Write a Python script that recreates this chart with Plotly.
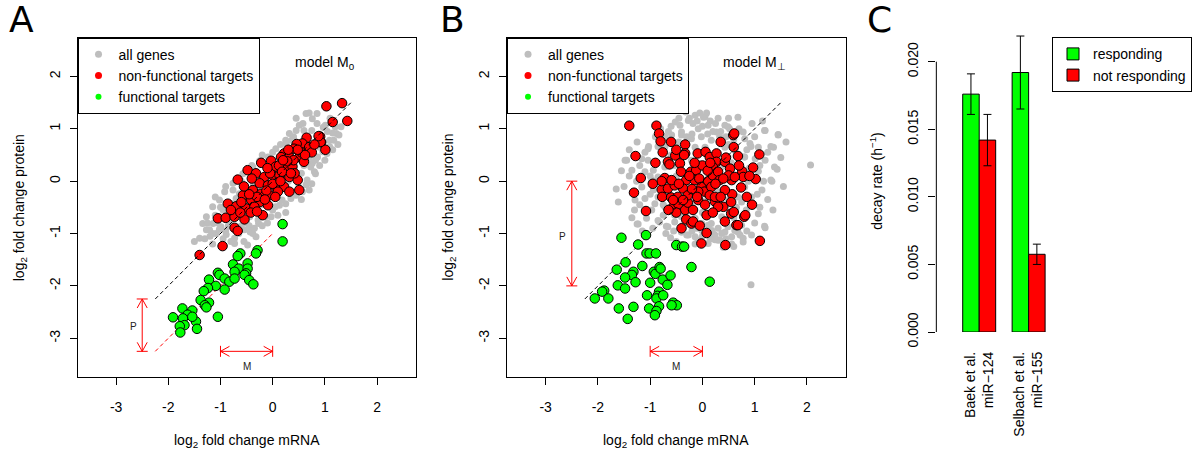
import plotly.graph_objects as go

# ---------------- DATA ----------------
# Panel A (model M0): log2 fold change mRNA (x), protein (y)
A_gray = [(-1.40,-1.09),(-1.21,-0.93),(-1.08,-1.00),(-0.99,-0.87),(-0.89,-1.02),(-0.80,-0.74),(-0.73,-1.09),
          (-0.48,-1.22),(-0.32,-1.06),(-0.54,-0.93),(-0.95,-0.55),(-0.76,-0.17),(-0.64,-0.24),(-0.70,-0.33),
          (-0.60,-0.46),(-0.44,-0.68),(-0.28,-0.74),(-0.03,-0.68),(0.00,-0.55),(0.13,-0.46),(0.25,-0.43),
          (0.35,-0.33),(0.45,-0.27),(0.57,-0.20),(0.64,-0.07),(0.70,-0.17),(0.80,0.18),(0.76,0.34),(0.86,0.46),
          (0.96,0.56),(1.09,0.66),(1.09,0.78),(1.22,0.91),(1.31,1.04),(0.60,0.97),(0.51,1.07),(0.32,0.91),
          (0.25,0.78),(0.06,0.62),(-0.09,0.46),(-0.25,0.39),(-0.38,0.27),(-0.57,0.14),(-0.76,-0.04),(-0.92,-0.20),
          (-1.02,-0.36),(-1.15,-0.49),(-1.27,-0.68),(-1.34,-0.81),(0.64,1.29),(0.76,1.19),(0.85,1.29),(1.01,1.07),
          (1.20,1.04),(1.27,0.88),(1.17,0.78),(1.04,0.53),(0.82,0.40),(0.73,0.27),(0.82,0.14),(0.66,0.02),
          (0.50,-0.11),(0.37,-0.24),(0.18,-0.36),(0.05,-0.49),(-0.14,-0.68),(-0.27,-0.81),(-0.43,-0.97),
          (0.45,0.97),(0.36,0.78),(0.26,0.71),(0.58,1.10),(0.17,0.53),(0.01,0.40),(-0.12,0.24),(-0.25,0.08),
          (-0.37,-0.05),(-0.47,-0.17),(-0.63,-0.30),(-0.76,-0.43),(-0.88,-0.55),(-1.01,-0.68),(-1.14,-0.81),
          (-1.27,-0.93),(-1.15,-1.20),(-0.73,-1.19),(-0.38,-1.00),(-1.15,-1.00),(-1.02,-0.92),(-0.90,-0.95),
          (-0.60,-0.85),(-0.50,-0.80),(1.15,0.92),(0.97,1.03),(0.75,0.97),(0.92,0.80),(1.05,0.95),(0.70,0.60),
          (0.90,0.65),(0.55,0.15),(0.60,0.30),(0.48,0.05),(0.40,0.10),(-0.50,-0.40),(-0.30,-0.20),(-0.10,-0.10),
          (0.10,0.10),(0.30,0.30),(0.50,0.50),(0.20,-0.10),(-0.20,-0.45),(0.40,0.20),(-0.60,-0.60),(-0.85,-0.75),
          (0.00,0.20),(0.30,0.00),(-0.40,-0.55),(0.70,0.45),(0.90,0.90),(-1.05,-0.80),(-1.20,-1.05),
          (-1.50,-1.15),(-1.30,-1.10),(-1.25,-0.80),(-1.10,-0.65),(-1.00,-0.50),(-0.95,-1.10),(-0.85,-0.85),
          (-0.80,-1.15),(-0.65,-1.00),(-0.55,-1.15),(-0.45,-0.85),(-0.35,-0.90),(-0.20,-0.85),(-0.10,-0.80),
          (0.10,-0.65),(0.25,-0.60),(-1.10,-0.30),(-0.90,-0.10),(-0.60,0.00),(-0.40,0.30),(-0.20,0.50),
          (0.00,0.55),(0.15,0.70),(0.40,0.85),(0.55,-0.35),(0.75,-0.05),(0.90,0.30),(1.00,0.40),(1.15,0.60),
          (1.25,0.70),(0.45,1.20),(0.70,1.30),(0.85,1.10),(1.10,1.20)]
A_red = [(1.15,1.13),(1.43,1.15),(1.03,1.43),(1.33,1.49),(0.91,0.85),(0.93,0.74),(1.01,0.60),(0.65,0.83),
         (0.57,0.72),(0.46,0.71),(0.41,0.62),(0.92,0.75),(0.88,0.86),(0.22,0.53),(0.16,0.46),(0.32,0.46),
         (0.51,0.46),(0.60,0.37),(-0.22,0.35),(-0.03,0.39),(0.06,0.28),(0.25,0.28),(0.38,0.28),(-0.48,0.21),
         (-0.32,0.15),(-0.16,0.08),(0.00,0.11),(0.13,0.11),(0.32,0.08),(0.48,0.02),(-0.67,0.03),(-0.25,-0.04),
         (-0.09,-0.08),(0.06,-0.11),(0.22,-0.11),(0.32,-0.20),(0.51,-0.17),(-0.38,-0.17),(-0.22,-0.24),
         (-0.06,-0.27),(0.10,-0.20),(-0.57,-0.27),(-0.41,-0.36),(-0.25,-0.40),(-0.09,-0.46),(-0.86,-0.43),
         (-0.70,-0.48),(-0.51,-0.52),(-0.35,-0.49),(-0.19,-0.65),(-1.05,-0.71),(-0.90,-0.70),(-0.73,-0.68),
         (-0.54,-0.73),(-0.73,-0.89),(-0.67,-0.95),(-0.96,-1.24),(-1.40,-1.41),(0.70,0.65),(0.75,0.55),
         (0.55,0.55),(0.40,0.40),(0.28,0.38),(0.12,0.30),(-0.05,0.15),(0.18,0.18),(0.42,0.15),(-0.12,-0.18),
         (0.00,-0.05),(0.15,0.00),(-0.30,-0.30),(-0.45,-0.25),(-0.60,-0.40),(-0.42,-0.60),(-0.30,-0.58),
         (-0.15,-0.35),(0.05,-0.30),(0.20,0.40),(0.35,0.15),(-0.55,-0.10),(-0.40,0.05),(-0.80,-0.55),
         (-0.62,-0.60),(0.62,0.50),(0.80,0.70),(0.48,0.60),(0.30,0.60),(-0.10,0.25)]
A_green = [(0.19,-0.82),(0.19,-1.15),(-0.29,-1.32),(-0.32,-1.38),(-0.62,-1.38),(-0.67,-1.43),(-0.76,-1.59),
           (-0.65,-1.67),(-0.73,-1.73),(-0.48,-1.57),(-0.48,-1.67),(-0.51,-1.76),(-0.54,-1.79),(-0.45,-1.89),
           (-0.37,-1.97),(-1.05,-1.75),(-1.02,-1.79),(-0.92,-1.86),(-0.83,-1.92),(-0.73,-1.86),(-1.22,-1.88),
           (-1.09,-2.00),(-0.92,-2.07),(-1.24,-2.04),(-1.32,-2.10),(-1.38,-2.27),(-1.22,-2.32),(-1.30,-2.37),
           (-1.27,-2.41),(-1.05,-2.59),(-1.73,-2.43),(-1.54,-2.47),(-1.63,-2.55),(-1.72,-2.62),(-1.91,-2.60),
           (-1.47,-2.68),(-1.69,-2.75),(-1.78,-2.77),(-1.45,-2.82),(-1.77,-2.89),(-1.54,-2.59)]

# Panel B (model M_perp)
B_gray = [(-0.32,1.32),(0.08,1.30),(0.05,1.23),(-0.27,1.16),(-0.43,1.07),(-0.18,1.10),(-0.08,1.00),(0.11,1.07),
          (0.27,0.94),(0.43,1.07),(0.52,1.00),(0.33,0.85),(0.17,0.78),(-0.02,0.85),(-0.21,0.81),(-0.40,0.88),
          (-0.59,0.88),(-0.62,0.75),(-0.72,0.65),(-1.04,0.62),(-1.16,0.43),(-1.48,0.40),(-1.04,0.40),(-0.94,0.21),
          (-1.10,0.18),(-0.97,0.02),(-1.16,-0.11),(-0.94,-0.17),(-1.10,-0.33),(-1.61,-0.40),(-0.91,-0.43),
          (-1.07,-0.71),(-1.23,-0.82),(-0.85,-0.75),(-0.66,-0.87),(-0.75,-0.65),(-0.53,-0.78),(-0.40,-0.97),
          (-0.27,-1.03),(-0.11,-0.90),(-0.08,-1.13),(0.20,-1.00),(0.30,-1.13),(0.30,-0.90),(0.56,-1.06),
          (0.68,-0.97),(0.75,-0.84),(0.84,-0.55),(0.97,-0.46),(1.07,-0.62),(0.94,-0.30),(1.14,-0.17),(1.17,0.00),
          (1.33,0.00),(1.07,0.19),(1.20,0.40),(1.01,0.43),(0.81,0.46),(1.07,0.65),(0.91,0.72),(0.81,0.81),
          (0.78,0.94),(1.20,0.97),(1.36,0.65),(1.45,0.89),(1.43,0.23),(1.20,-0.89),(0.94,-1.03),(0.78,-1.16),
          (0.43,-0.97),(-0.01,-0.81),(-0.40,-0.68),(-0.72,-0.49),(-0.85,-0.30),(-0.85,0.08),(-0.72,0.27),
          (-0.53,0.30),(-0.40,0.46),(-0.21,0.40),(-0.08,0.34),(0.05,0.27),(0.37,0.27),(0.49,0.46),(0.62,0.59),
          (0.43,0.65),(0.05,0.65),(-0.14,0.65),(-0.33,0.65),(0.81,-0.11),(0.88,0.00),(0.68,-0.30),(0.75,-0.40),
          (0.49,-0.36),(0.37,-0.68),(0.17,-0.81),(-0.14,-0.71),(-0.53,-0.65),(-0.97,-0.55),(-1.29,-0.36),
          (-1.26,0.00),(-1.35,0.21),(-1.25,-0.82),(-0.82,-0.78),(-0.69,-0.86),(-0.61,-1.08),(-0.40,-0.97),
          (-0.30,-1.03),(-0.14,-1.06),(-0.14,-1.20),(0.11,-0.84),(0.24,-1.03),(0.24,-1.12),(0.37,-1.00),
          (0.40,-1.26),(0.56,-1.20),(0.72,-1.03),(0.78,-1.09),(0.93,-1.98),(1.19,-0.86),(-0.01,-0.94),
          (0.11,-1.19),(0.33,-1.12),(0.49,-0.87),(0.62,-0.94),(0.18,-0.94),(-0.33,1.35),(0.02,1.22),(-0.14,1.26),
          (-0.52,1.13),(-0.72,0.85),(-0.85,0.66),(-0.40,0.94),(-1.45,0.40),(-1.03,0.66),(1.45,0.88),(1.19,0.97),
          (1.31,0.66),(1.38,0.27),(1.31,0.02),(0.93,0.66),(0.80,0.46),(2.07,0.31),(0.49,1.04),(0.68,1.22),
          (-0.50,0.10),(-0.30,-0.10),(-0.10,0.10),(0.10,-0.30),(0.30,-0.20),(0.20,0.10),(-0.20,-0.40),
          (0.00,-0.60),(0.50,0.70),(-0.60,0.50),(-0.70,-0.20),(0.60,-0.70),(-0.20,0.90),(0.20,0.95),
          (-1.50,-0.10),(-1.40,0.10),(-1.30,-0.55),(-1.20,0.30),(-1.10,0.55),(-1.00,-0.25),(-0.90,0.85),
          (-0.80,1.00),(-0.70,-1.00),(-0.60,1.05),(-0.50,-1.15),(-0.45,0.75),(-0.35,-0.80),(-0.25,1.20),
          (-0.10,1.15),(0.00,1.05),(0.15,1.15),(0.25,1.10),(0.35,0.95),(0.45,0.85),(0.60,0.80),(0.70,1.00),
          (0.85,0.60),(1.00,0.85),(1.10,0.30),(1.25,0.55),(1.25,-0.35),(1.10,-0.50),(1.00,-0.80),(0.85,-0.95),
          (0.60,-1.25),(0.45,-1.10),(0.15,-1.10),(0.00,-1.05),(-0.20,-0.95),(-0.55,-0.95),(-0.75,-0.45),
          (-1.00,0.10),(-1.20,-0.45),(-0.30,0.85),(0.10,0.90),(0.55,0.35),(0.65,-0.50),(0.90,0.25),(1.05,-0.25),
          (-1.35,-0.70),(-1.15,-0.95),(-0.95,-0.90),(-1.55,0.20),(-1.65,-0.15),(1.50,0.45),(1.55,-0.10),
          (1.35,-0.55),(1.60,0.75),(-0.65,0.95),(0.50,1.20),(-0.05,1.30),(0.30,1.20),(-0.45,1.20),(0.95,1.10),
          (1.15,1.15),(-1.25,0.75),(-1.40,0.60)]
B_red = [(-1.40,1.06),(-0.88,1.06),(-0.83,0.91),(-0.80,0.76),(-1.28,0.48),(-0.76,0.55),(-0.66,0.37),(-0.63,0.32),
         (-0.52,0.49),(-0.50,0.60),(-0.33,0.70),(-0.33,0.53),(-0.43,0.34),(-0.09,0.53),(0.06,0.56),(0.14,0.46),
         (0.27,0.53),(0.27,0.37),(0.20,0.27),(0.43,0.37),(0.59,0.88),(0.61,0.91),(0.60,0.65),(0.68,0.48),
         (1.09,0.51),(0.97,0.26),(1.02,0.04),(0.76,0.19),(0.78,0.08),(0.74,-0.12),(0.56,0.02),(0.57,-0.25),
         (-1.18,0.06),(-1.31,-0.22),(-1.08,-0.57),(-0.72,0.06),(-0.78,-0.16),(-0.77,-0.30),(-0.60,-0.31),
         (-0.56,-0.49),(-0.46,-0.44),(-0.33,-0.55),(-0.28,-0.41),(-0.18,-0.55),(-0.31,-0.73),(-0.21,-0.81),
         (-0.18,-0.77),(0.08,-0.65),(0.08,-0.99),(-0.02,-1.19),(0.44,-1.22),(1.10,-1.14),(0.43,-0.77),
         (0.55,-0.62),(0.60,-0.59),(0.80,-0.68),(0.82,-0.65),(0.65,-0.84),(0.68,-0.84),(0.40,-0.49),(0.24,-0.39),
         (-0.41,0.18),(-0.31,0.02),(-0.22,0.18),(-0.12,0.21),(-0.15,0.02),(-0.06,0.05),(-0.02,-0.11),(0.04,-0.20),
         (-0.08,-0.20),(0.11,0.00),(0.17,-0.11),(0.20,0.11),(0.30,0.18),(0.33,0.02),(0.14,-0.27),(0.24,-0.30),
         (-0.37,-0.14),(-0.28,-0.27),(-0.47,-0.30),(-0.66,-0.14),(-0.53,-0.08),(-0.59,0.02),(-0.78,0.00),
         (0.53,0.24),(0.50,0.11),(0.62,0.08),(0.43,-0.17),(0.30,-0.49),(-0.08,-0.36),(-0.37,-0.36),(-0.56,-0.36),
         (-0.45,-0.05),(-0.20,-0.15),(0.00,0.30),(0.10,0.20),(0.25,-0.05),(0.40,0.05),(-0.10,-0.30),(0.05,-0.45),
         (-0.25,0.10),(0.35,-0.30),(-0.50,-0.60),(0.15,0.35),(-0.15,0.35),(0.45,0.45),(-0.35,0.50),(0.90,0.10),
         (0.85,-0.30),(-0.90,0.35),(-0.95,-0.05),(0.70,0.30),(-0.65,-0.55),(0.20,-0.60),(-0.05,-0.85),
         (0.55,-0.40),(-0.40,-0.90),(0.35,0.75),(-0.60,0.75),(0.95,-0.45)]
B_green = [(-1.55,-1.08),(-1.08,-1.03),(-1.23,-1.21),(-1.07,-1.38),(-1.01,-1.38),(-0.89,-1.38),(-1.47,-1.55),
           (-1.64,-1.69),(-1.15,-1.62),(-1.32,-1.73),(-1.35,-1.79),(-1.48,-1.84),(-1.28,-1.93),(-1.62,-1.99),
           (-1.48,-2.05),(-1.88,-2.09),(-1.92,-2.11),(-2.06,-2.24),(-1.80,-2.24),(-1.60,-2.43),(-1.32,-2.40),
           (-1.43,-2.63),(-1.02,-2.43),(-1.06,-2.18),(-1.00,-1.94),(-0.93,-1.73),(-0.90,-1.77),(-0.82,-1.64),
           (-0.80,-1.67),(-0.83,-2.11),(-0.86,-2.19),(-0.88,-2.24),(-0.75,-2.18),(-0.76,-1.88),(-0.67,-1.98),
           (-0.61,-1.80),(-0.83,-2.39),(-0.88,-2.48),(-0.91,-2.56),(-0.56,-2.32),(-0.49,-2.37),(-0.59,-2.37),
           (-0.50,-1.22),(-0.39,-1.25),(-0.35,-1.25),(-0.21,-1.64),(0.14,-1.92)]

# Model lines
diag_x = [-2.25, 1.5]          # y = x   (non-functional)
shift_x = [-2.25, 0.0]         # y = x - 1 (functional, model M0)
shift_P = 1.0

xy_ticks = [-3, -2, -1, 0, 1, 2]
xy_ticktext = ["-3", "-2", "-1", "0", "1", "2"]

# Panel C: decay rates
C_groups = ["Baek et al.<br>miR\u2212124", "Selbach et al.<br>miR\u2212155"]
C_responding = [0.0176, 0.0192]
C_responding_err = [0.0015, 0.0027]
C_not_responding = [0.0142, 0.00575]
C_not_responding_err = [0.0019, 0.00075]
C_ticks = [0.0, 0.005, 0.010, 0.015, 0.020]
C_ticktext = ["0.000", "0.005", "0.010", "0.015", "0.020"]

# ---------------- LAYOUT HELPERS ----------------
W, H = 1192, 452
FONT = "Liberation Sans"
GRAY, RED, GREEN = "#BEBEBE", "#FF0000", "#00FF00"

def fx(p): return p / W
def fy(p): return 1 - p / H

fig = go.Figure()

def scatter_panel(gray, red, green, xa, ya, leg, with_shift):
    fig.add_trace(go.Scatter(x=[p[0] for p in gray], y=[p[1] for p in gray], mode="markers",
                             marker=dict(color=GRAY, size=7), xaxis=xa, yaxis=ya, showlegend=False, hoverinfo="skip"))
    fig.add_trace(go.Scatter(x=[p[0] for p in red], y=[p[1] for p in red], mode="markers",
                             marker=dict(color=RED, size=9.5, line=dict(color="black", width=1)),
                             xaxis=xa, yaxis=ya, showlegend=False))
    fig.add_trace(go.Scatter(x=diag_x, y=diag_x, mode="lines", line=dict(color="black", width=1, dash="4px,3px"),
                             xaxis=xa, yaxis=ya, showlegend=False, hoverinfo="skip"))
    if with_shift:
        fig.add_trace(go.Scatter(x=shift_x, y=[v - shift_P for v in shift_x], mode="lines",
                                 line=dict(color=RED, width=1, dash="4px,3px"),
                                 xaxis=xa, yaxis=ya, showlegend=False, hoverinfo="skip"))
    fig.add_trace(go.Scatter(x=[p[0] for p in green], y=[p[1] for p in green], mode="markers",
                             marker=dict(color=GREEN, size=9.5, line=dict(color="black", width=1)),
                             xaxis=xa, yaxis=ya, showlegend=False))
    # legend entries
    for name, col, sz in [("all genes", GRAY, 7), ("non-functional targets", RED, 7), ("functional targets", GREEN, 6)]:
        fig.add_trace(go.Scatter(x=[None], y=[None], mode="markers", marker=dict(color=col, size=sz),
                                 name=name, xaxis=xa, yaxis=ya, legend=leg, showlegend=True))

scatter_panel(A_gray, A_red, A_green, "x", "y", "legend", True)
scatter_panel(B_gray, B_red, B_green, "x2", "y2", "legend2", False)

fig.add_trace(go.Bar(x=C_groups, y=C_responding, name="responding", marker=dict(color=GREEN, line=dict(color="black", width=1)),
                     error_y=dict(type="data", array=C_responding_err, color="black", thickness=1, width=4),
                     xaxis="x3", yaxis="y3", legend="legend3"))
fig.add_trace(go.Bar(x=C_groups, y=C_not_responding, name="not responding", marker=dict(color=RED, line=dict(color="black", width=1)),
                     error_y=dict(type="data", array=C_not_responding_err, color="black", thickness=1, width=4),
                     xaxis="x3", yaxis="y3", legend="legend3"))

axis_common = dict(showgrid=False, zeroline=False, showline=True, mirror=True, linecolor="black", linewidth=1,
                   ticks="outside", ticklen=7, tickcolor="black", tickfont=dict(size=14, family=FONT, color="black"),
                   automargin=False, fixedrange=True)
xr = [-3.74, 2.74]
yr = [-3.74, 2.74]
dom_y = [fy(377), fy(37.7)]
layout = dict(
    width=W, height=H, margin=dict(l=0, r=0, t=0, b=0), paper_bgcolor="white", plot_bgcolor="white",
    font=dict(family=FONT, size=14, color="black"), barmode="group", bargap=0.333, bargroupgap=0,
    xaxis=dict(domain=[fx(77.7), fx(416.7)], range=xr, anchor="y", tickvals=xy_ticks, ticktext=xy_ticktext,
               ticklabelstandoff=10, **axis_common),
    yaxis=dict(domain=dom_y, range=yr, anchor="x", tickvals=xy_ticks, ticktext=xy_ticktext, tickangle=-90,
               ticklabelstandoff=4, **axis_common),
    xaxis2=dict(domain=[fx(508.3), fx(847.7)], range=xr, anchor="y2", tickvals=xy_ticks, ticktext=xy_ticktext,
                ticklabelstandoff=10, **axis_common),
    yaxis2=dict(domain=dom_y, range=yr, anchor="x2", tickvals=xy_ticks, ticktext=xy_ticktext, tickangle=-90,
                ticklabelstandoff=4, **axis_common),
    xaxis3=dict(domain=[fx(938.7), fx(1056)], range=[-0.867, 1.5], anchor="y3", showgrid=False, zeroline=False,
                showline=False, ticks="", tickangle=-90, ticklabelstandoff=16, automargin=False, fixedrange=True,
                tickfont=dict(size=14, family=FONT, color="black")),
    yaxis3=dict(domain=[fy(332), fy(30)], range=[0, 0.02 * 302 / 270.3], anchor="x3", showgrid=False, zeroline=False,
                showline=False, ticks="outside", ticklen=7, tickcolor="black", tickvals=C_ticks, ticktext=C_ticktext,
                tickangle=-90, ticklabelstandoff=5, automargin=False, fixedrange=True,
                tickfont=dict(size=14, family=FONT, color="black")),
)
leg_common = dict(bgcolor="white", bordercolor="black", borderwidth=1, font=dict(size=14, family=FONT, color="black"),
                  xanchor="left", yanchor="top", tracegroupgap=0, itemclick=False)
layout["legend"] = dict(x=fx(77.7), y=fy(37.7), **leg_common)
layout["legend2"] = dict(x=fx(508.3), y=fy(37.7), **leg_common)
layout["legend3"] = dict(x=fx(1054.7), y=fy(37.3), **leg_common)
fig.update_layout(**layout)

# axis line for panel C (only between 0 and 0.020, R style)
shapes = [dict(type="line", xref="x3 domain", yref="y3", x0=0, x1=0, y0=C_ticks[0], y1=C_ticks[-1],
               line=dict(color="black", width=1))]

def arrow(xa, ya, x0, y0, x1, y1):
    """double headed arrow with end bars, in data coords"""
    out = [dict(type="line", xref=xa, yref=ya, x0=x0, y0=y0, x1=x1, y1=y1, line=dict(color=RED, width=1))]
    vertical = (x0 == x1)
    for (ex, ey, sgn) in [(x0, y0, 1 if (y0 > y1 if vertical else x0 > x1) else -1),
                          (x1, y1, 1 if (y1 > y0 if vertical else x1 > x0) else -1)]:
        if vertical:
            out.append(dict(type="line", xref=xa, yref=ya, xsizemode="pixel", xanchor=ex, x0=-5.5, x1=5.5,
                            y0=ey, y1=ey, line=dict(color=RED, width=1)))
            for s in (-1, 1):
                out.append(dict(type="line", xref=xa, yref=ya, xsizemode="pixel", ysizemode="pixel",
                                xanchor=ex, yanchor=ey, x0=0, y0=0, x1=s * 5, y1=-sgn * 9,
                                line=dict(color=RED, width=1)))
        else:
            out.append(dict(type="line", xref=xa, yref=ya, ysizemode="pixel", yanchor=ey, y0=-5.5, y1=5.5,
                            x0=ex, x1=ex, line=dict(color=RED, width=1)))
            for s in (-1, 1):
                out.append(dict(type="line", xref=xa, yref=ya, xsizemode="pixel", ysizemode="pixel",
                                xanchor=ex, yanchor=ey, x0=0, y0=0, x1=-sgn * 9, y1=s * 5,
                                line=dict(color=RED, width=1)))
    return out

shapes += arrow("x", "y", -2.5, -2.25, -2.5, -3.25)
shapes += arrow("x", "y", -1.0, -3.25, 0.0, -3.25)
shapes += arrow("x2", "y2", -2.5, 0.0, -2.5, -2.0)
shapes += arrow("x2", "y2", -1.0, -3.25, 0.0, -3.25)
fig.update_layout(shapes=shapes)

ann = []
for lab, px in [("A", 22), ("B", 454), ("C", 882)]:
    ann.append(dict(text=lab, x=fx(px), y=fy(20), xref="paper", yref="paper", showarrow=False,
                    xanchor="center", yanchor="middle", font=dict(size=36, family="DejaVu Sans", color="black")))
ann.append(dict(text="model M<sub>0</sub>", x=1.0, y=2.25, xref="x", yref="y", showarrow=False,
                font=dict(size=14, family=FONT)))
ann.append(dict(text="model M<sub>\u22a5</sub>", x=1.0, y=2.25, xref="x2", yref="y2", showarrow=False,
                font=dict(size=14, family=FONT)))
ann.append(dict(text="P", x=-2.67, y=-2.77, xref="x", yref="y", showarrow=False, font=dict(size=10, family=FONT, color="#222")))
ann.append(dict(text="M", x=-0.5, y=-3.53, xref="x", yref="y", showarrow=False, font=dict(size=10, family=FONT, color="#222")))
ann.append(dict(text="P", x=-2.67, y=-1.05, xref="x2", yref="y2", showarrow=False, font=dict(size=10, family=FONT, color="#222")))
ann.append(dict(text="M", x=-0.5, y=-3.53, xref="x2", yref="y2", showarrow=False, font=dict(size=10, family=FONT, color="#222")))
# axis titles
for cx in (247.2, 678.0):
    ann.append(dict(text="log<sub>2</sub> fold change mRNA", x=fx(cx), y=fy(441), xref="paper", yref="paper",
                    showarrow=False, xanchor="center", yanchor="middle", font=dict(size=14, family=FONT)))
for cx in (20.0, 450.5):
    ann.append(dict(text="log<sub>2</sub> fold change protein", x=fx(cx), y=fy(207.3), xref="paper", yref="paper",
                    showarrow=False, xanchor="center", yanchor="middle", textangle=-90, font=dict(size=14, family=FONT)))
ann.append(dict(text="decay rate (h<sup>\u22121</sup>)", x=fx(878), y=fy(181), xref="paper", yref="paper",
                showarrow=False, xanchor="center", yanchor="middle", textangle=-90, font=dict(size=14, family=FONT)))
fig.update_layout(annotations=ann)

fig.write_html("out.html")
